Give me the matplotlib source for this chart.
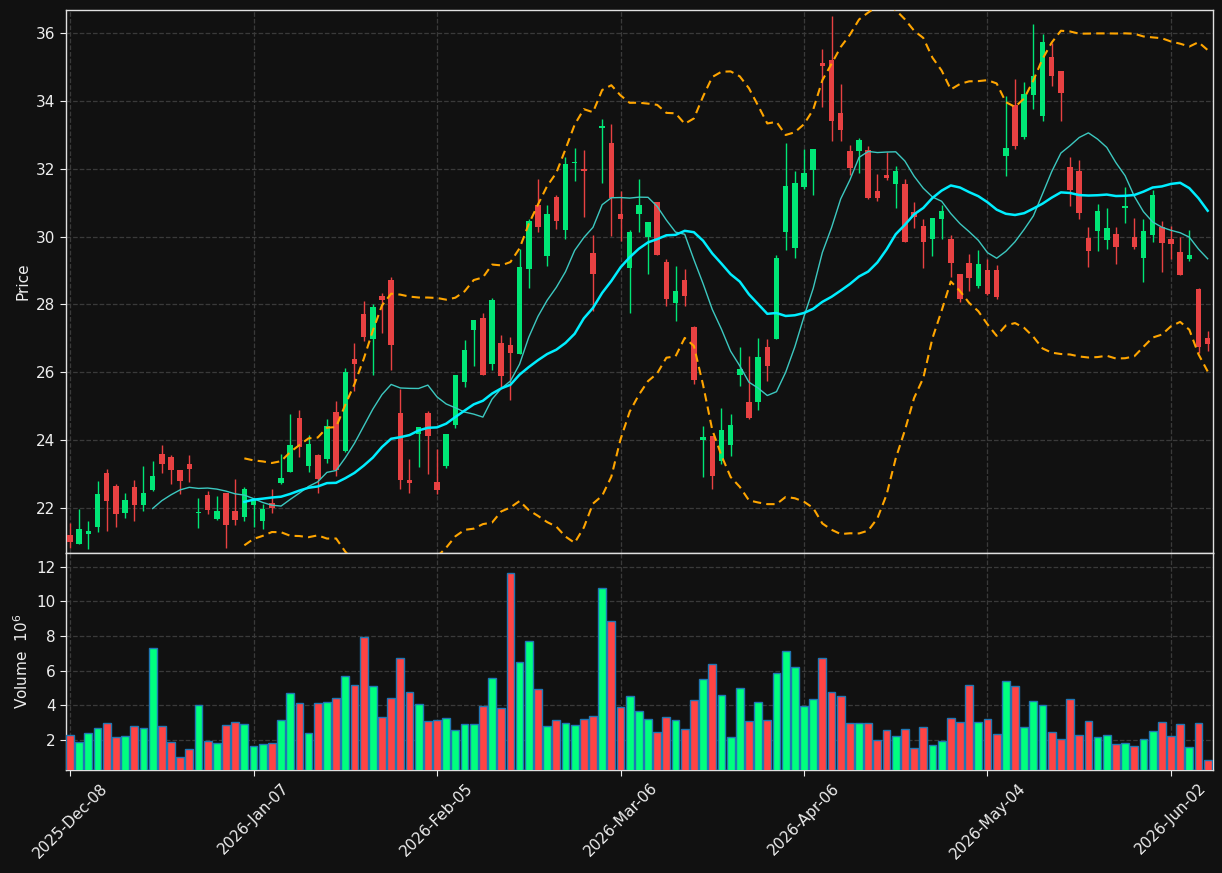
import matplotlib
matplotlib.use("Agg")
import matplotlib.pyplot as plt
import numpy as np
import pandas as pd

# ---------------- data ----------------
opens = [21.21, 20.93, 21.22, 21.43, 23.02, 22.64, 21.85, 22.61, 22.08, 22.52,
         23.58, 23.49, 23.13, 23.28, 21.84, 22.37, 21.67, 22.44, 21.90, 21.72,
         22.08, 21.62, 22.13, 22.73, 23.06, 24.64, 23.23, 23.55, 23.44, 24.84,
         23.67, 26.38, 27.73, 26.97, 28.24, 28.73, 24.81, 22.81, 24.19, 24.81,
         22.75, 23.23, 24.44, 25.72, 27.24, 27.59, 26.24, 26.85, 26.81, 26.53,
         29.04, 30.92, 29.43, 31.17, 30.20, 32.16, 31.99, 29.53, 33.19, 32.76,
         30.66, 29.06, 30.66, 29.98, 31.02, 29.25, 28.05, 28.71, 27.33, 23.99,
         24.13, 23.38, 23.84, 25.91, 25.11, 25.11, 26.73, 26.98, 30.14, 29.66,
         31.47, 31.97, 35.11, 35.20, 33.65, 32.52, 32.53, 32.54, 31.34, 31.81,
         31.56, 31.55, 30.71, 30.32, 29.93, 30.53, 29.93, 28.89, 29.22, 28.55,
         29.01, 29.01, 32.38, 33.89, 32.94, 34.17, 33.56, 35.30, 34.88, 32.05,
         31.94, 29.95, 30.17, 29.90, 30.07, 30.84, 29.98, 29.37, 30.05, 30.27,
         29.92, 29.54, 29.34, 28.45, 27.00]
highs = [21.55, 21.96, 21.62, 22.80, 23.16, 22.71, 22.44, 22.83, 23.24, 23.39,
         23.86, 23.55, 23.13, 23.57, 22.29, 22.50, 22.34, 22.44, 22.86, 22.61,
         22.27, 22.11, 22.55, 23.58, 24.78, 24.88, 24.15, 23.59, 24.63, 25.16,
         26.12, 26.85, 28.09, 28.01, 28.35, 28.80, 25.52, 23.45, 24.39, 24.86,
         23.73, 24.19, 25.91, 26.94, 27.53, 27.76, 28.19, 27.09, 27.04, 29.63,
         30.53, 31.69, 30.94, 31.22, 32.35, 32.60, 32.54, 30.06, 33.47, 33.32,
         31.35, 30.20, 31.69, 30.42, 31.02, 29.35, 29.14, 29.04, 27.37, 24.42,
         24.13, 24.94, 24.76, 26.75, 26.47, 27.02, 26.99, 29.47, 32.76, 31.94,
         32.58, 32.58, 35.54, 36.50, 34.50, 32.71, 32.91, 32.68, 31.83, 32.48,
         32.09, 31.71, 31.02, 30.53, 30.55, 30.94, 30.04, 28.89, 29.50, 29.61,
         29.35, 29.16, 34.14, 34.64, 34.55, 36.28, 35.97, 35.71, 34.88, 32.35,
         32.25, 30.27, 30.96, 30.84, 30.27, 31.47, 30.56, 30.51, 31.38, 30.45,
         30.32, 30.00, 30.19, 28.48, 27.22]
lows = [20.81, 20.93, 20.79, 21.29, 21.32, 21.45, 21.70, 21.62, 21.91, 22.49,
        23.04, 22.71, 22.42, 22.76, 21.41, 21.83, 21.64, 20.81, 21.50, 21.62,
        21.45, 21.39, 21.85, 22.71, 23.06, 23.51, 23.06, 22.44, 23.32, 22.95,
        23.65, 25.46, 26.93, 25.93, 27.17, 26.08, 22.57, 22.44, 23.22, 23.01,
        22.40, 23.18, 24.37, 25.57, 26.17, 25.91, 26.08, 25.55, 25.19, 26.53,
        28.48, 30.12, 29.12, 30.22, 29.94, 31.64, 30.58, 27.80, 31.59, 30.02,
        29.86, 27.76, 30.12, 28.90, 29.45, 27.94, 27.52, 27.96, 25.65, 22.91,
        22.55, 23.29, 23.53, 25.60, 24.61, 24.88, 25.73, 26.98, 29.61, 29.38,
        31.40, 31.22, 33.82, 32.81, 32.81, 31.81, 31.88, 31.12, 31.04, 31.66,
        30.84, 29.85, 30.24, 29.06, 29.42, 29.93, 28.80, 28.07, 28.39, 28.48,
        28.27, 28.15, 31.79, 32.58, 32.89, 33.76, 33.40, 34.43, 33.42, 30.89,
        30.53, 29.09, 29.58, 29.64, 29.20, 30.41, 29.63, 28.66, 29.83, 28.96,
        29.33, 28.86, 29.28, 26.58, 26.63]
closes = [20.98, 21.39, 21.32, 22.40, 22.20, 21.82, 22.22, 22.08, 22.45, 22.95,
          23.29, 23.12, 22.79, 23.14, 21.88, 21.93, 21.91, 21.49, 21.64, 22.57,
          22.27, 21.98, 21.99, 22.88, 23.84, 23.80, 23.87, 22.85, 24.42, 23.13,
          26.00, 26.25, 27.03, 27.91, 28.14, 26.80, 22.83, 22.73, 24.39, 24.12,
          22.52, 24.17, 25.91, 26.65, 27.53, 25.92, 28.12, 25.89, 26.57, 29.10,
          30.46, 30.29, 30.66, 30.47, 32.14, 32.20, 31.92, 28.90, 33.25, 31.15,
          30.53, 30.12, 30.94, 30.42, 29.45, 28.17, 28.39, 28.25, 25.76, 24.09,
          22.95, 24.29, 24.43, 26.09, 24.64, 26.44, 26.19, 29.38, 31.49, 31.58,
          31.87, 32.58, 35.04, 33.40, 33.13, 32.02, 32.85, 31.15, 31.15, 31.73,
          31.94, 29.85, 30.58, 29.85, 30.55, 30.76, 29.23, 28.17, 28.78, 29.18,
          28.30, 28.21, 32.61, 32.68, 34.20, 34.74, 35.74, 34.72, 34.24, 31.37,
          30.70, 29.58, 30.76, 30.24, 29.69, 30.90, 29.69, 30.16, 31.23, 29.81,
          29.78, 28.87, 29.45, 26.73, 26.83]
volumes = [2.27, 1.87, 2.39, 2.68, 2.96, 2.16, 2.21, 2.79, 2.68, 7.30,
           2.79, 1.87, 1.00, 1.46, 4.00, 1.92, 1.81, 2.85, 3.02, 2.90,
           1.64, 1.75, 1.81, 3.14, 4.70, 4.12, 2.39, 4.12, 4.18, 4.41,
           5.68, 5.16, 7.94, 5.10, 3.31, 4.41, 6.72, 4.77, 4.05, 3.08,
           3.14, 3.25, 2.56, 2.90, 2.90, 3.95, 5.57, 3.83, 11.63, 6.49,
           7.70, 4.93, 2.79, 3.14, 2.96, 2.85, 3.20, 3.37, 10.77, 8.86,
           3.89, 4.53, 3.66, 3.20, 2.45, 3.31, 3.14, 2.62, 4.31, 5.50,
           6.37, 4.58, 2.16, 4.99, 3.08, 4.18, 3.14, 5.86, 7.13, 6.20,
           3.95, 4.35, 6.72, 4.77, 4.53, 2.96, 2.96, 2.96, 1.98, 2.56,
           2.21, 2.62, 1.52, 2.73, 1.69, 1.92, 3.25, 3.02, 5.16, 3.02,
           3.20, 2.33, 5.39, 5.10, 2.73, 4.24, 4.00, 2.45, 2.04, 4.35,
           2.27, 3.08, 2.16, 2.27, 1.75, 1.81, 1.64, 2.04, 2.50, 3.02,
           2.21, 2.90, 1.58, 2.96, 0.83]
tick_labels = ['2025-Dec-08', '2026-Jan-07', '2026-Feb-05', '2026-Mar-06',
               '2026-Apr-06', '2026-May-04', '2026-Jun-02']
tick_step = 20
mav_short, mav_long, bb_window, bb_k = 10, 20, 20, 2

# ---------------- styling ----------------
BG = '#111111'
UP_C, DN_C = '#00e676', '#e84142'
VUP_C, VDN_C = '#00ff7f', '#ff4444'
TXT = '#eeeeee'
GRID = '#3a3a3a'

o = np.array(opens); h = np.array(highs); l = np.array(lows); c = np.array(closes)
v = np.array(volumes)
n = len(c)
x = np.arange(n)
up = c >= o

cs = pd.Series(c)
ma_s = cs.rolling(mav_short).mean()
ma_l = cs.rolling(mav_long).mean()
sd = cs.rolling(bb_window).std(ddof=0)
bb_mid = cs.rolling(bb_window).mean()
bb_up = bb_mid + bb_k * sd
bb_lo = bb_mid - bb_k * sd

fig = plt.figure(figsize=(12.22, 8.73), dpi=100, facecolor=BG)
ax = fig.add_axes([66/1222, 1-553/873, 1147/1222, 543/873], facecolor=BG)
axv = fig.add_axes([66/1222, 1-770/873, 1147/1222, 217/873], facecolor=BG, sharex=ax)

# candles
for i in range(n):
    col = UP_C if up[i] else DN_C
    ax.vlines(x[i], l[i], h[i], color=col, linewidth=1.0, zorder=2)
body_bot = np.minimum(o, c)
body_h = np.maximum(np.abs(c - o), 0.03)
ax.bar(x, body_h, bottom=body_bot, width=0.6,
       color=[UP_C if u else DN_C for u in up], linewidth=0, zorder=3)

ax.plot(x, ma_s, color='#3cc8c0', linewidth=1.0, zorder=4)
ax.plot(x, ma_l, color='#00eeff', linewidth=1.8, zorder=4)
ax.plot(x, bb_up, color='#ffa500', linewidth=1.5, linestyle=(0, (4, 2.5)), zorder=4)
ax.plot(x, bb_lo, color='#ffa500', linewidth=1.5, linestyle=(0, (4, 2.5)), zorder=4)

ax.set_ylim(20.67, 36.68)
ax.set_xlim(-0.44, n - 0.42)
ax.set_yticks(np.arange(22, 37, 2))
ax.set_ylabel('Price', color=TXT, fontsize=11)

# volume
axv.bar(x, v, width=0.85, color=[VUP_C if u else VDN_C for u in up],
        edgecolor='#1f77b4', linewidth=1.0, zorder=3)
axv.set_ylim(0.3 * v.min(), 1.1 * v.max())
axv.set_yticks([2, 4, 6, 8, 10, 12])
axv.set_ylabel('Volume  $10^6$', color=TXT, fontsize=11)

ticks = np.arange(0, n, tick_step)
axv.set_xticks(ticks)
axv.set_xticklabels(tick_labels, rotation=45, ha='center')

for a in (ax, axv):
    a.grid(True, color=GRID, linestyle='--', linewidth=0.9)
    a.set_axisbelow(True)
    for s in a.spines.values():
        s.set_color('#e0e0e0')
        s.set_linewidth(1.0)
    a.tick_params(colors=TXT, labelsize=11, direction='out', length=4)
plt.setp(ax.get_xticklabels(), visible=False)
ax.tick_params(axis='x', length=0)

fig.savefig('out.png', dpi=100, facecolor=BG)
